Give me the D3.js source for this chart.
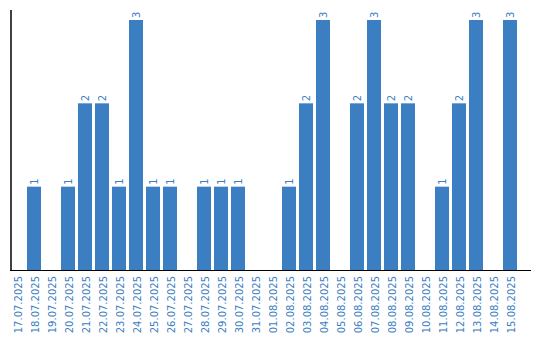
<!DOCTYPE html>
<html>
<head>
<meta charset="utf-8">
<script src="https://cdn.jsdelivr.net/npm/d3@7"></script>
<style>
  body { margin: 0; background: #fff; }
  text { font-family: "DejaVu Sans", sans-serif; }
</style>
</head>
<body>
<svg id="main-svg" width="540" height="340"></svg>
<script>
// days shown on the x axis
const days = [
    '17.07.2025', '18.07.2025', '19.07.2025', '20.07.2025', '21.07.2025',
    '22.07.2025', '23.07.2025', '24.07.2025', '25.07.2025', '26.07.2025',
    '27.07.2025', '28.07.2025', '29.07.2025', '30.07.2025', '31.07.2025',
    '01.08.2025', '02.08.2025', '03.08.2025', '04.08.2025', '05.08.2025',
    '06.08.2025', '07.08.2025', '08.08.2025', '09.08.2025', '10.08.2025',
    '11.08.2025', '12.08.2025', '13.08.2025', '14.08.2025', '15.08.2025'
];

// count per day
const counts = [
    0, 1, 0, 1, 2, 2, 1, 3, 1, 1,
    0, 1, 1, 1, 0, 0, 1, 2, 3, 0,
    2, 3, 2, 2, 0, 1, 2, 3, 0, 3
];

const svg = d3.select('#main-svg');
const color = '#3b7ec2';

const x = d3.scaleBand()
    .domain(days)
    .range([10, 517])
    .paddingInner(3 / 17)
    .paddingOuter(0);

const y = d3.scaleLinear()
    .domain([0, 3])
    .range([270, 20]);

const data = days.map((d, i) => ({ day: d, value: counts[i] }));

// bars
svg.selectAll('rect.bar')
    .data(data.filter(d => d.value > 0))
    .enter()
    .append('rect')
    .attr('class', 'bar')
    .attr('x', d => x(d.day))
    .attr('y', d => y(d.value))
    .attr('width', x.bandwidth())
    .attr('height', d => y(0) - y(d.value))
    .attr('fill', color);

// value labels above bars
svg.selectAll('text.val')
    .data(data.filter(d => d.value > 0))
    .enter()
    .append('text')
    .attr('class', 'val')
    .attr('transform', d => `translate(${x(d.day) + x.bandwidth() / 2},${y(d.value) - 2}) rotate(-90)`)
    .attr('dy', '0.35em')
    .attr('font-size', 10)
    .attr('fill', color)
    .text(d => d.value);

// x axis labels, rotated
svg.selectAll('text.day')
    .data(days)
    .enter()
    .append('text')
    .attr('class', 'day')
    .attr('transform', d => `translate(${x(d) + x.bandwidth() / 2 + 1},276) rotate(-90)`)
    .attr('text-anchor', 'end')
    .attr('dy', '0.35em')
    .attr('font-size', 10)
    .attr('fill', color)
    .text(d => d);

// axis lines
svg.append('line')
    .attr('x1', 11).attr('y1', 10)
    .attr('x2', 11).attr('y2', 271)
    .attr('stroke', 'black')
    .attr('stroke-width', 1.5);

svg.append('line')
    .attr('x1', 10).attr('y1', 270.5)
    .attr('x2', 531).attr('y2', 270.5)
    .attr('stroke', 'black')
    .attr('stroke-width', 1);
</script>
</body>
</html>
